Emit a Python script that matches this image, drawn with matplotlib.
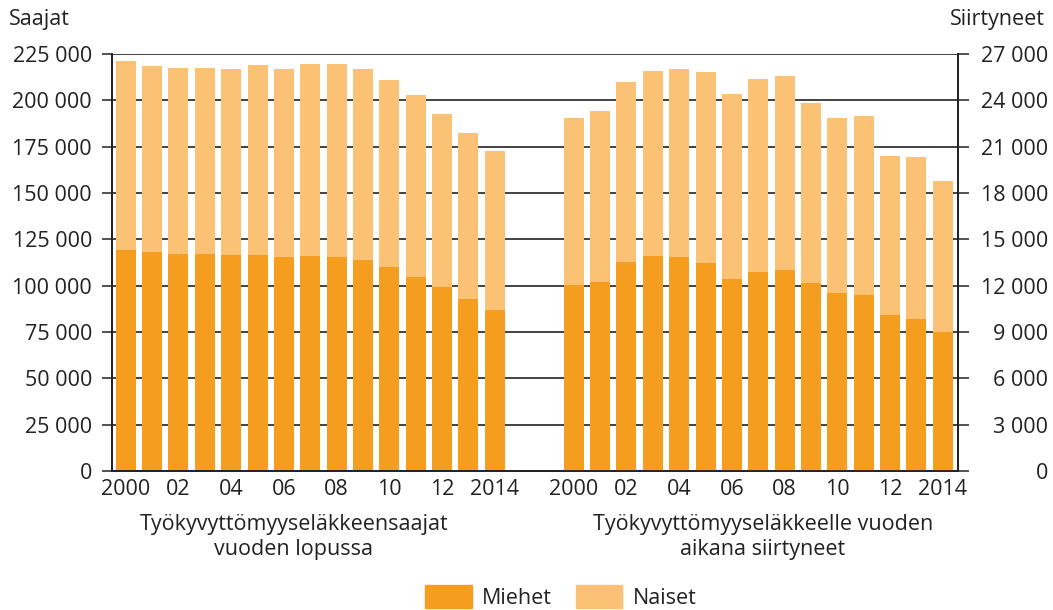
import numpy as np
import matplotlib.pyplot as plt
from matplotlib.patches import Patch

plt.rcParams['font.family'] = ['Open Sans', 'DejaVu Sans']

years = list(range(2000, 2015))
year_labels = ['2000', '', '02', '', '04', '', '06', '', '08', '', '10', '', '12', '', '2014']

# recipients at year end (left axis)
saajat_miehet = [119500, 117900, 117300, 117000, 116600, 116800, 115200, 116100,
                 115200, 113600, 109800, 104900, 99500, 93000, 87100]
saajat_yht = [221400, 218300, 217600, 217600, 217100, 219000, 216700, 219800,
              219600, 217100, 211100, 203000, 192800, 182500, 172400]

# new retirees during the year (right axis)
siirt_miehet = [12060, 12260, 13550, 13940, 13880, 13450, 12410, 12910,
                13000, 12190, 11530, 11420, 10120, 9840, 8980]
siirt_yht = [22840, 23310, 25210, 25880, 26010, 25840, 24410, 25400,
             25580, 23850, 22880, 22970, 20420, 20350, 18780]

c_men = '#f59d1f'
c_women = '#fbc175'
txt = '#222222'
fs = 15.5

saajat_naiset = np.array(saajat_yht) - np.array(saajat_miehet)
siirt_naiset = np.array(siirt_yht) - np.array(siirt_miehet)

fig = plt.figure(figsize=(10.53, 6.10), dpi=100)
ax = fig.add_axes([0.1064, 0.2279, 0.8034, 0.6836])
ax2 = ax.twinx()

x_left = np.arange(len(years))
x_right = x_left + 17
w = 0.76

ax.bar(x_left, saajat_miehet, w, color=c_men, zorder=2)
ax.bar(x_left, saajat_naiset, w, bottom=saajat_miehet, color=c_women, zorder=2)
ax2.bar(x_right, siirt_miehet, w, color=c_men, zorder=2)
ax2.bar(x_right, siirt_naiset, w, bottom=siirt_miehet, color=c_women, zorder=2)

ax.set_xlim(-0.52, 31.58)
ax.set_ylim(0, 225000)
ax2.set_ylim(0, 27000)

def fmt(v):
    return '{:,}'.format(v).replace(',', ' ')

lt = list(range(0, 225001, 25000))
rt = list(range(0, 27001, 3000))
ax.set_yticks(lt)
ax.set_yticklabels([fmt(v) for v in lt])
ax2.set_yticks(rt)
ax2.set_yticklabels([fmt(v) for v in rt])

ax.set_axisbelow(True)
ax.grid(axis='y', color='#333333', linewidth=1.3, zorder=0)
ax.set_xticks(list(x_left) + list(x_right))
ax.set_xticklabels(year_labels + year_labels)

ax.tick_params(axis='y', length=7, width=1.2, color='#333333', labelsize=fs, labelcolor=txt, pad=7.5)
ax.tick_params(axis='x', length=0, labelsize=fs, labelcolor=txt, pad=6)
ax2.tick_params(axis='y', length=8, width=1.2, color='#333333', labelsize=fs, labelcolor=txt, pad=57)
for lab in ax2.get_yticklabels():
    lab.set_horizontalalignment('right')

for a in (ax, ax2):
    a.spines['top'].set_visible(False)
    for s in ('left', 'right', 'bottom'):
        a.spines[s].set_color('#222222')
        a.spines[s].set_linewidth(1.3)

fig.text(9 / 1053, 1 - 20 / 610, 'Saajat', fontsize=fs, color=txt, ha='left', va='center')
fig.text(1045 / 1053, 1 - 20 / 610, 'Siirtyneet', fontsize=fs, color=txt, ha='right', va='center')

fig.text(294 / 1053, 1 - 537 / 610, 'Työkyvyttömyyseläkkeensaajat\nvuoden lopussa',
         fontsize=fs, color=txt, ha='center', va='center', linespacing=1.2)
fig.text(763 / 1053, 1 - 537 / 610, 'Työkyvyttömyyseläkkeelle vuoden\naikana siirtyneet',
         fontsize=fs, color=txt, ha='center', va='center', linespacing=1.2)

handles = [Patch(color=c_men, label='Miehet'), Patch(color=c_women, label='Naiset')]
fig.legend(handles=handles, loc='center', bbox_to_anchor=(561 / 1053, 1 - 597 / 610),
           ncol=2, frameon=False, fontsize=fs, handlelength=2.15, handleheight=1.3,
           handletextpad=0.5, columnspacing=1.1, labelcolor=txt)

fig.savefig('out.png', dpi=100)
